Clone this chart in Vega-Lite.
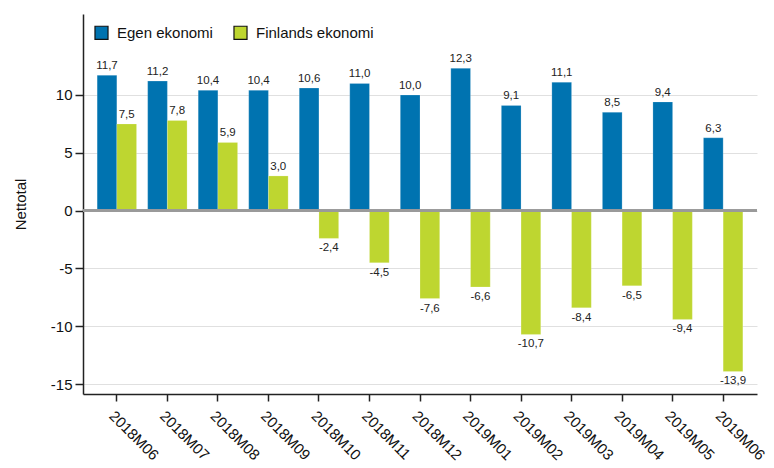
{
  "$schema": "https://vega.github.io/schema/vega-lite/v6.json",
  "width": 674,
  "height": 380,
  "autosize": {"type": "none"},
  "padding": {"left": 83, "top": 14, "right": 17, "bottom": 74},
  "background": "white",
  "config": {
    "locale": {"number": {"decimal": ",", "thousands": " ", "grouping": [3], "currency": ["", " €"], "minus": "-"}},
    "font": "Liberation Sans",
    "view": {"stroke": null}
  },
  "data": {
    "values": [
      {"month": "2018M06", "serie": "Egen ekonomi", "value": 11.7},
      {"month": "2018M07", "serie": "Egen ekonomi", "value": 11.2},
      {"month": "2018M08", "serie": "Egen ekonomi", "value": 10.4},
      {"month": "2018M09", "serie": "Egen ekonomi", "value": 10.4},
      {"month": "2018M10", "serie": "Egen ekonomi", "value": 10.6},
      {"month": "2018M11", "serie": "Egen ekonomi", "value": 11.0},
      {"month": "2018M12", "serie": "Egen ekonomi", "value": 10.0},
      {"month": "2019M01", "serie": "Egen ekonomi", "value": 12.3},
      {"month": "2019M02", "serie": "Egen ekonomi", "value": 9.1},
      {"month": "2019M03", "serie": "Egen ekonomi", "value": 11.1},
      {"month": "2019M04", "serie": "Egen ekonomi", "value": 8.5},
      {"month": "2019M05", "serie": "Egen ekonomi", "value": 9.4},
      {"month": "2019M06", "serie": "Egen ekonomi", "value": 6.3},
      {"month": "2018M06", "serie": "Finlands ekonomi", "value": 7.5},
      {"month": "2018M07", "serie": "Finlands ekonomi", "value": 7.8},
      {"month": "2018M08", "serie": "Finlands ekonomi", "value": 5.9},
      {"month": "2018M09", "serie": "Finlands ekonomi", "value": 3.0},
      {"month": "2018M10", "serie": "Finlands ekonomi", "value": -2.4},
      {"month": "2018M11", "serie": "Finlands ekonomi", "value": -4.5},
      {"month": "2018M12", "serie": "Finlands ekonomi", "value": -7.6},
      {"month": "2019M01", "serie": "Finlands ekonomi", "value": -6.6},
      {"month": "2019M02", "serie": "Finlands ekonomi", "value": -10.7},
      {"month": "2019M03", "serie": "Finlands ekonomi", "value": -8.4},
      {"month": "2019M04", "serie": "Finlands ekonomi", "value": -6.5},
      {"month": "2019M05", "serie": "Finlands ekonomi", "value": -9.4},
      {"month": "2019M06", "serie": "Finlands ekonomi", "value": -13.9}
    ]
  },
  "encoding": {
    "x": {
      "field": "month", "type": "nominal", "title": null,
      "scale": {"paddingInner": 0.22, "paddingOuter": 0.28},
      "axis": {
        "labelAngle": 45, "labelFontSize": 15, "labelColor": "#111",
        "domainColor": "#222", "domainWidth": 1.5,
        "tickColor": "#222", "tickWidth": 1.5, "tickSize": 7,
        "labelPadding": 7
      }
    },
    "xOffset": {"field": "serie", "type": "nominal", "scale": {"paddingInner": 0, "paddingOuter": 0}},
    "y": {
      "field": "value", "type": "quantitative",
      "scale": {"domain": [-15.85, 17], "nice": false, "zero": false},
      "axis": {
        "title": "Nettotal", "titleFontSize": 15, "titleFontWeight": "normal", "titleColor": "#111",
        "titlePadding": 22,
        "values": [-15, -10, -5, 0, 5, 10],
        "labelFontSize": 15, "labelColor": "#111", "labelPadding": 3,
        "domainColor": "#222", "domainWidth": 1.5,
        "tickColor": "#222", "tickWidth": 1.5, "tickSize": 8,
        "grid": true, "gridColor": "#e0e0e0", "gridWidth": 1
      }
    }
  },
  "layer": [
    {
      "mark": {"type": "bar", "stroke": "white", "strokeWidth": 0.5, "strokeOpacity": 0.4},
      "encoding": {
        "color": {
          "field": "serie", "type": "nominal",
          "scale": {"domain": ["Egen ekonomi", "Finlands ekonomi"], "range": ["#0073b0", "#bed630"]},
          "legend": {
            "title": null, "orient": "none", "legendX": 11, "legendY": 11,
            "direction": "horizontal", "symbolType": "square", "symbolSize": 170,
            "symbolStrokeColor": "#111", "symbolStrokeWidth": 1.2,
            "labelFontSize": 15, "labelColor": "#111", "columnPadding": 18, "labelOffset": 8,
            "fillColor": "white"
          }
        }
      }
    },
    {
      "mark": {"type": "rule", "color": "#9a9a9a", "strokeWidth": 2},
      "encoding": {"y": {"datum": 0}, "x": null, "xOffset": null}
    },
    {
      "transform": [{"filter": "datum.value >= 0"}],
      "mark": {"type": "text", "baseline": "bottom", "dy": -4, "fontSize": 11.5, "color": "#222"},
      "encoding": {"text": {"field": "value", "type": "quantitative", "format": ".1f"}}
    },
    {
      "transform": [{"filter": "datum.value < 0"}],
      "mark": {"type": "text", "baseline": "top", "dy": 4, "fontSize": 11.5, "color": "#222"},
      "encoding": {"text": {"field": "value", "type": "quantitative", "format": ".1f"}}
    }
  ]
}
